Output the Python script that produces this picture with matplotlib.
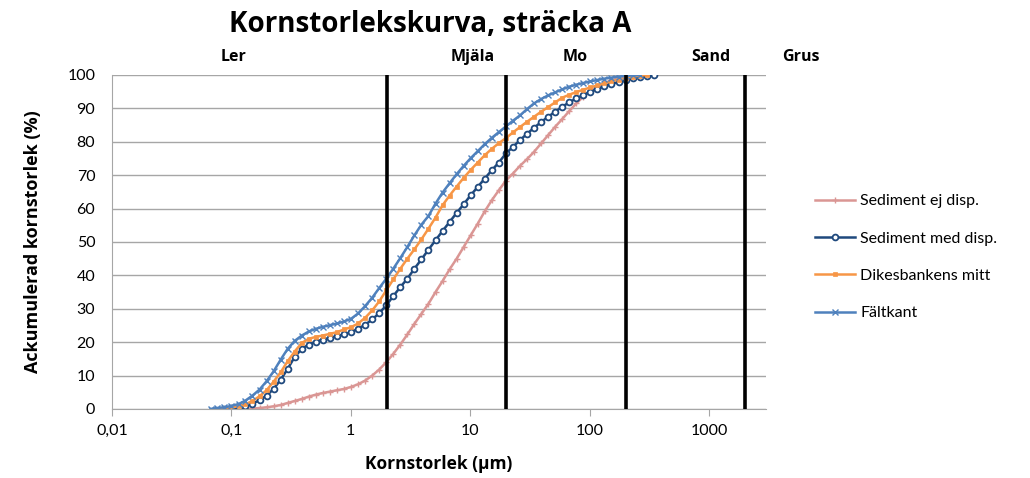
import matplotlib
matplotlib.use('Agg')
import matplotlib.pyplot as plt
import matplotlib.transforms as mtransforms

# kornstorleksklasser (um)
storlek = [0.058, 0.067, 0.076, 0.087, 0.100, 0.115, 0.131, 0.150, 0.172, 0.197,
           0.226, 0.259, 0.296, 0.339, 0.389, 0.445, 0.510, 0.584, 0.669, 0.766,
           0.877, 1.005, 1.151, 1.318, 1.510, 1.729, 1.981, 2.269, 2.599, 2.976,
           3.409, 3.905, 4.472, 5.122, 5.867, 6.720, 7.697, 8.816, 10.097, 11.565,
           13.246, 15.172, 17.377, 19.904, 22.797, 26.111, 29.907, 34.255, 39.234, 44.938,
           51.471, 58.953, 67.523, 77.339, 88.583, 101.46, 116.21, 133.10, 152.45, 174.62,
           200.00, 229.07, 262.37, 300.51, 344.21]

# ackumulerad andel (%), varje serie borjar vid sin forsta klass
sediment_ej_disp = [0.0, 0.1, 0.3, 0.5, 0.8, 1.2, 1.8, 2.4, 3.0, 3.7,
                    4.3, 4.8, 5.2, 5.6, 6.0, 6.6, 7.4, 8.5, 10.0, 11.8,
                    14.0, 16.5, 19.3, 22.3, 25.5, 28.5, 31.5, 35.0, 38.3, 41.8,
                    45.0, 48.5, 52.0, 55.5, 59.2, 62.5, 65.5, 68.4, 70.5, 72.8,
                    74.8, 77.0, 79.5, 82.0, 84.5, 86.8, 89.2, 91.5, 93.5, 95.2,
                    96.5, 97.6, 98.4, 99.0, 99.5, 99.8, 100.0]
sediment_med_disp = [0.0, 0.2, 0.5, 0.9, 1.6, 2.6, 4.0, 6.0, 8.8, 12.0,
                     15.6, 18.0, 19.3, 20.2, 20.8, 21.3, 21.8, 22.3, 23.0, 24.0,
                     25.2, 26.8, 28.7, 31.0, 33.8, 36.5, 39.0, 42.0, 44.8, 47.7,
                     50.5, 53.3, 56.0, 58.7, 61.3, 64.0, 66.5, 69.0, 71.5, 73.8,
                     76.5, 78.5, 80.5, 82.4, 84.2, 85.9, 87.5, 89.0, 90.5, 91.8,
                     93.0, 94.0, 95.0, 95.8, 96.6, 97.3, 97.9, 98.4, 99.0, 99.4,
                     99.8, 100.0]
dikesbankens_mitt = [0.0, 0.3, 0.5, 0.8, 1.4, 2.4, 3.8, 5.6, 8.2,
                     11.0, 14.3, 17.2, 19.8, 21.0, 21.6, 22.0, 22.5, 23.0, 23.8,
                     24.5, 25.6, 27.3, 29.5, 32.2, 35.5, 38.8, 42.0, 45.0, 47.8,
                     50.8, 54.0, 57.3, 61.0, 63.9, 66.6, 69.2, 71.6, 73.8, 76.0,
                     77.9, 79.6, 81.1, 82.8, 84.4, 86.0, 87.5, 89.0, 90.4, 91.8,
                     93.2, 94.1, 94.9, 95.6, 96.3, 96.9, 97.5, 98.1, 98.6, 99.1,
                     99.5, 99.8, 100.0]
faltkant = [0.0, 0.3, 0.5, 0.9, 1.5, 2.5, 4.0, 5.8, 8.3,
            11.3, 14.8, 18.0, 20.4, 22.0, 23.2, 24.0, 24.6, 25.1, 25.6,
            26.2, 27.0, 28.6, 30.8, 33.3, 36.2, 39.0, 42.0, 45.2, 48.5,
            52.0, 55.2, 57.8, 61.5, 64.8, 67.6, 70.3, 72.8, 75.1, 77.2,
            79.3, 81.2, 82.9, 84.6, 86.3, 87.9, 89.8, 91.5, 92.8, 93.9,
            94.8, 95.7, 96.5, 97.1, 97.6, 98.1, 98.5, 98.9, 99.2, 99.5,
            99.7, 99.9, 100.0]

serie_namn = ['Sediment ej disp.', 'Sediment med disp.', 'Dikesbankens mitt', 'Fältkant']
serie_start = [0.131, 0.087, 0.076, 0.067]

# fraktionsgranser och namn
granser = [2, 20, 200, 2000]
fraktioner = ['Ler', 'Mjäla', 'Mo', 'Sand', 'Grus']
fraktion_pos = [0.105, 10.4, 76, 1030, 5850]

x_ticks = [0.01, 0.1, 1, 10, 100, 1000]
x_ticklabels = ['0,01', '0,1', '1', '10', '100', '1000']

plt.rcParams['font.family'] = ['Lato', 'DejaVu Sans']
BOLD_FONT = ['Open Sans', 'DejaVu Sans']

fig = plt.figure(figsize=(10.3, 4.78), dpi=100)
ax = fig.add_axes([0.1087, 0.1444, 0.6350, 0.6987])

colors = ['#DA9694', '#1F497D', '#F79646', '#4F81BD']
styles = [dict(marker='+', markersize=4, markeredgewidth=1.0),
          dict(marker='o', markersize=4.2, markerfacecolor='white', markeredgewidth=1.3),
          dict(marker='s', markersize=3.0, markeredgewidth=0.5),
          dict(marker='x', markersize=3.8, markeredgewidth=1.0)]
data = [sediment_ej_disp, sediment_med_disp, dikesbankens_mitt, faltkant]

for name, start, vals, col, st in zip(serie_namn, serie_start, data, colors, styles):
    i0 = storlek.index(start)
    xs = storlek[i0:i0 + len(vals)]
    ax.plot(xs, vals, color=col, lw=1.8, label=name, markeredgecolor=col, **st)

# svarta granslinjer
for g in granser:
    ax.axvline(g, color='black', lw=2.6, zorder=5)

ax.set_xscale('log')
ax.set_xlim(0.01, 3000)
ax.set_ylim(0, 100)
ax.set_xticks(x_ticks)
ax.set_xticklabels(x_ticklabels)
ax.minorticks_off()
ax.set_yticks(range(0, 101, 10))

ax.yaxis.grid(True, color='#A6A6A6', lw=1.0)
ax.set_axisbelow(True)
for s in ['top', 'right']:
    ax.spines[s].set_visible(False)
for s in ['left', 'bottom']:
    ax.spines[s].set_color('#A6A6A6')
ax.tick_params(axis='y', length=0, labelsize=11.5, pad=12)
ax.tick_params(axis='x', length=5, color='#A6A6A6', direction='out', labelsize=11.5, pad=6)

ax.set_xlabel('Kornstorlek (µm)', fontsize=12.5, fontweight='bold', labelpad=12,
              family=BOLD_FONT)
ax.set_ylabel('Ackumulerad kornstorlek (%)', fontsize=13, fontweight='bold', labelpad=18,
              family=BOLD_FONT)

trans = mtransforms.blended_transform_factory(ax.transData, ax.transAxes)
for namn, pos in zip(fraktioner, fraktion_pos):
    ax.text(pos, 1.055, namn, transform=trans, ha='center', va='center',
            fontsize=11.5, fontweight='bold', clip_on=False, family=BOLD_FONT)

fig.text(0.4175, 0.948, 'Kornstorlekskurva, sträcka A', ha='center', va='center',
         fontsize=20, fontweight='bold', family=BOLD_FONT)

ax.legend(loc='upper left', bbox_to_anchor=(0.791, 0.594), bbox_transform=fig.transFigure,
          frameon=False, fontsize=11.5, handlelength=2.5, labelspacing=1.45,
          handletextpad=0.35, borderpad=0, borderaxespad=0)

plt.savefig('out.png', dpi=100)
